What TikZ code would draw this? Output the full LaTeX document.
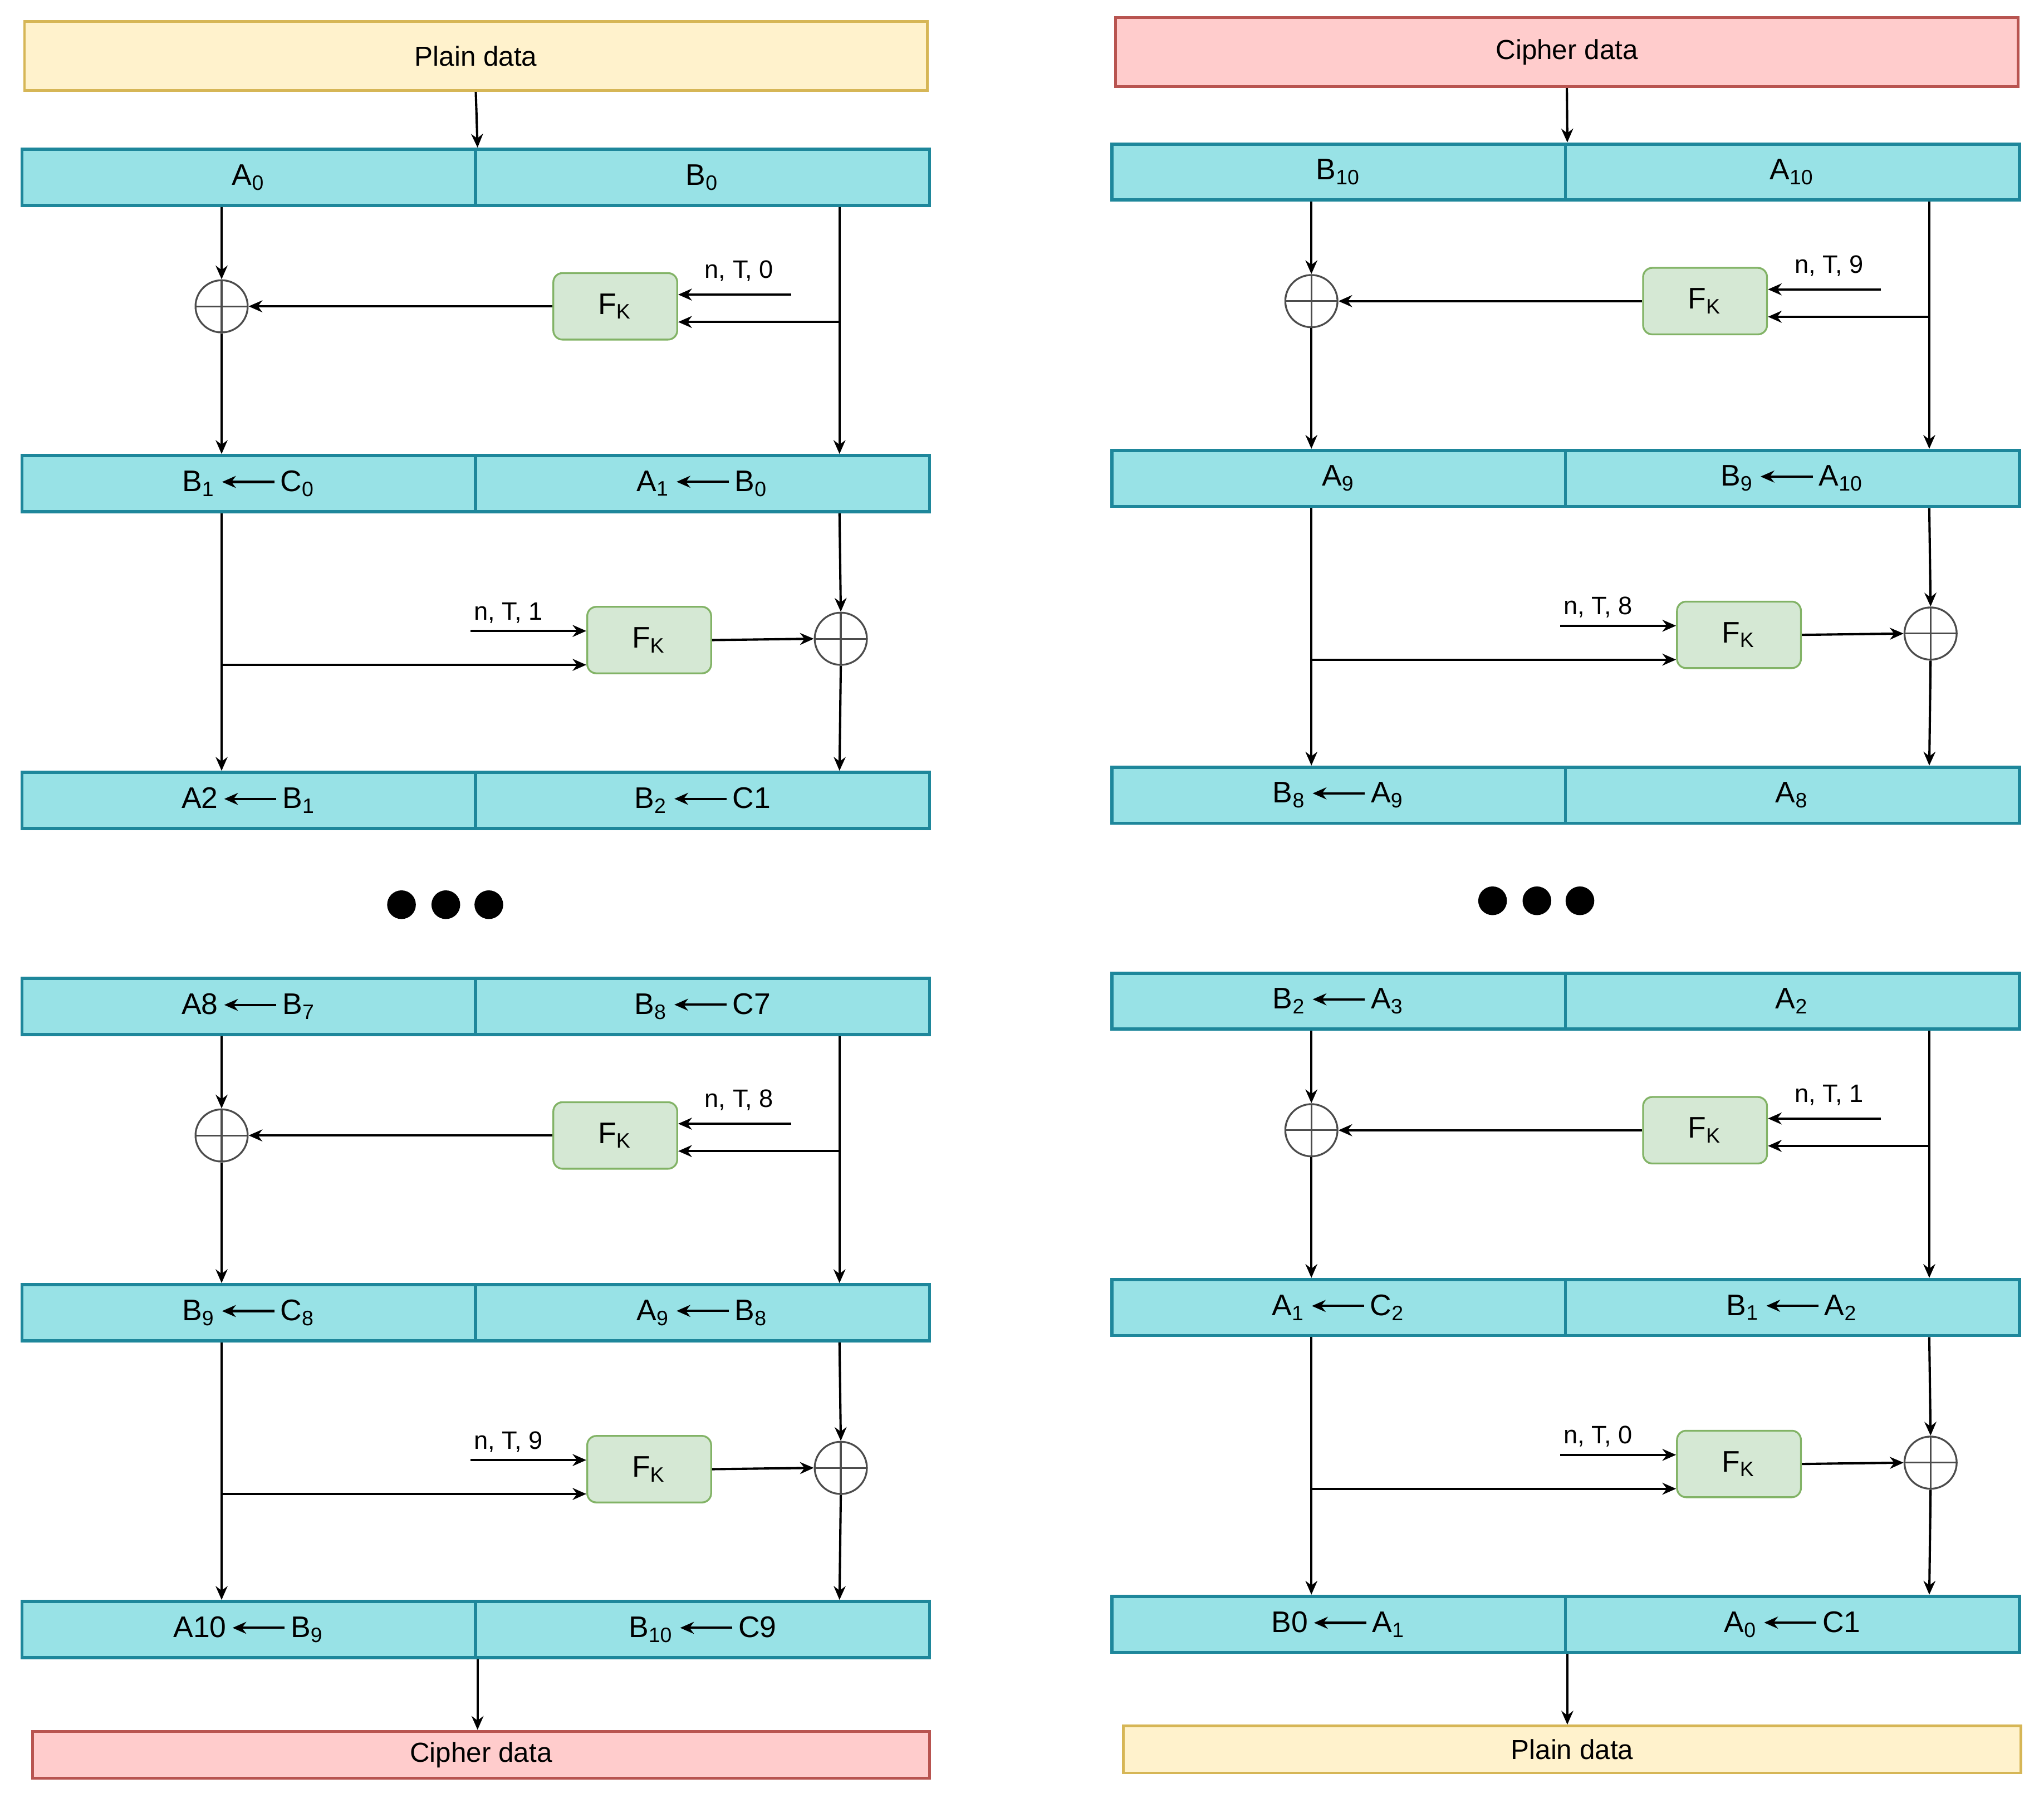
\documentclass[tikz,border=0pt]{standalone}
\usepackage{fontspec}
\setmainfont{Liberation Sans}
\usetikzlibrary{arrows.meta,calc,positioning}
\definecolor{rowfill}{RGB}{152,226,230}
\definecolor{rowline}{RGB}{30,135,155}
\definecolor{fkfill}{RGB}{213,232,212}
\definecolor{fkline}{RGB}{130,179,102}
\definecolor{plainfill}{RGB}{255,242,204}
\definecolor{plainline}{RGB}{214,182,86}
\definecolor{cipherfill}{RGB}{255,204,204}
\definecolor{cipherline}{RGB}{184,84,80}
\newcommand{\larr}{\,\tikz[baseline=-0.6ex]\draw[line width=0.5pt,-{Stealth[length=3pt,width=2.6pt]}] (4mm,0) -- (0,0);\,}
\newcommand{\sub}[1]{\textsubscript{#1}}
% one encryption / decryption block: prefix, six row labels, two round labels
\newcommand{\feistel}[9]{%
\begin{scope}[shift={#1}]
\node[half] (r0l) at (191,136) {#2};
\node[half] (r0r) at (539,136) {#3};
\node[half] (r1l) at (191,371) {#4};
\node[half] (r1r) at (539,371) {#5};
\node[half] (r2l) at (191,614) {#6};
\node[half] (r2r) at (539,614) {#7};
\node[xor] (x1) at (170,235) {};
\node[fk] (f1) at (472,235) {F\sub{K}};
\node[xor] (x2) at (645,490) {};
\node[fk] (f2) at (498,491) {F\sub{K}};
\coordinate (cr) at (644,0);
\coordinate (b1) at (644,247);
\coordinate (t1) at (607,226);
\coordinate (b2) at (170,510);
\coordinate (t2) at (361,484);
\node[rnd] (l1) at (567,208) {#8};
\node[rnd] (l2) at (390,470) {#9};
% first round
\draw[arr] (r0l.south -| x1) -- (x1.north);
\draw[arr] (x1.south) -- (r1l.north -| x1);
\draw[arr] (r0r.south -| cr) -- (r1r.north -| cr);
\draw[arr] (b1) -- (f1.east |- b1);
\draw[arr] (t1) -- (f1.east |- t1);
\draw[arr] (f1.west) -- (x1.east);
% second round
\draw[arr] (r1l.south -| x1) -- (r2l.north -| x1);
\draw[arr] (b2) -- (f2.west |- b2);
\draw[arr] (t2) -- (f2.west |- t2);
\draw[arr] (f2.east) -- (x2.west);
\draw[arr] (r1r.south -| cr) -- (x2.north);
\draw[arr] (x2.south) -- (r2r.north -| cr);
\end{scope}}

\begin{document}
\begin{tikzpicture}[
  x=0.01cm, y=-0.01cm,
  font=\fontsize{6.5}{7.5}\selectfont,
  half/.style={draw=rowline, fill=rowfill, line width=0.7pt, minimum width=3.48cm, minimum height=0.43cm, inner sep=0pt},
  io/.style={line width=0.6pt, minimum width=6.92cm, inner sep=0pt, font=\fontsize{6}{7}\selectfont},
  fk/.style={draw=fkline, fill=fkfill, rounded corners=2pt, minimum width=0.95cm, minimum height=0.51cm},
  xor/.style={draw=black!70, circle, minimum size=0.4cm, inner sep=0pt,
    path picture={\draw[black!70] (path picture bounding box.north) -- (path picture bounding box.south)
      (path picture bounding box.west) -- (path picture bounding box.east);}},
  rnd/.style={font=\fontsize{5.5}{6}\selectfont},
  arr/.style={-{Stealth[length=3pt,width=2.6pt]}, line width=0.5pt},
  dot/.style={circle, fill=black, minimum size=0.22cm, inner sep=0pt},
]
\useasboundingbox (0,0) rectangle (1568,1383);

\node[io, draw=plainline, fill=plainfill, minimum height=0.53cm] (plainT) at (365,43) {Plain data};
\node[io, draw=cipherline, fill=cipherfill, minimum height=0.53cm] (cipherT) at (1202,40) {Cipher data};

\feistel{(0,0)}{A\sub{0}}{B\sub{0}}{B\sub{1}\larr C\sub{0}}{A\sub{1}\larr B\sub{0}}{A2\larr B\sub{1}}{B\sub{2}\larr C1}{n, T, 0}{n, T, 1}
\begin{scope}[name prefix=BL-]
\feistel{(0,636)}{A8\larr B\sub{7}}{B\sub{8}\larr C7}{B\sub{9}\larr C\sub{8}}{A\sub{9}\larr B\sub{8}}{A10\larr B\sub{9}}{B\sub{10}\larr C9}{n, T, 8}{n, T, 9}
\end{scope}
\begin{scope}[name prefix=TR-]
\feistel{(836,-4)}{B\sub{10}}{A\sub{10}}{A\sub{9}}{B\sub{9}\larr A\sub{10}}{B\sub{8}\larr A\sub{9}}{A\sub{8}}{n, T, 9}{n, T, 8}
\end{scope}
\begin{scope}[name prefix=BR-]
\feistel{(836,632)}{B\sub{2}\larr A\sub{3}}{A\sub{2}}{A\sub{1}\larr C\sub{2}}{B\sub{1}\larr A\sub{2}}{B0\larr A\sub{1}}{A\sub{0}\larr C1}{n, T, 1}{n, T, 0}
\end{scope}

\node[io, draw=cipherline, fill=cipherfill, minimum width=6.88cm, minimum height=0.36cm] (cipherB) at (369,1346) {Cipher data};
\node[io, draw=plainline, fill=plainfill, minimum width=6.88cm, minimum height=0.36cm] (plainB) at (1206,1342) {Plain data};

\draw[arr] (plainT.south) -- (r0l.north east);
\draw[arr] (cipherT.south) -- (TR-r0l.north east);
\draw[arr] (BL-r2l.south east) -- (cipherB.north -| BL-r2l.south east);
\draw[arr] (BR-r2l.south east) -- (plainB.north -| BR-r2l.south east);

\node[dot] (d1) at (308,694) {};
\node[dot] (d2) at (342,694) {};
\node[dot] (d3) at (375,694) {};
\node[dot] (d4) at (1145,691) {};
\node[dot] (d5) at (1179,691) {};
\node[dot] (d6) at (1212,691) {};
\end{tikzpicture}
\end{document}
